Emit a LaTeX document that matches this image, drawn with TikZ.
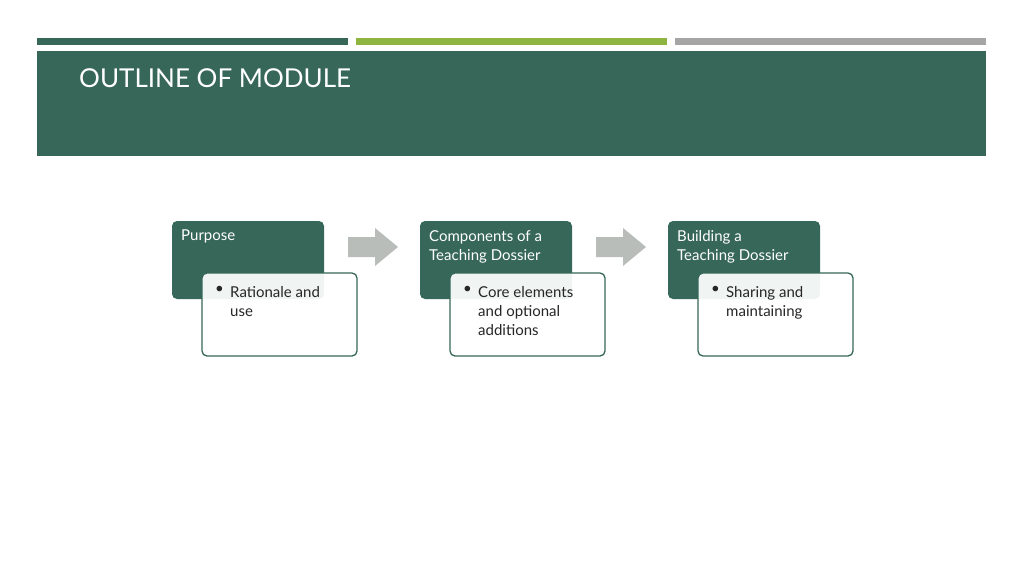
\documentclass[tikz,border=0pt]{standalone}
\usepackage{fontspec}
\setmainfont{Lato}
\definecolor{dg}{HTML}{376758}
\definecolor{lg}{HTML}{8DB53F}
\definecolor{gr}{HTML}{A5A5A5}
\definecolor{ar}{HTML}{B9BDBA}
\definecolor{tx}{HTML}{262626}
\begin{document}
\begin{tikzpicture}[x=1pt,y=-1pt,
  head/.style={text=white,font=\fontsize{15}{19}\selectfont,align=left,anchor=north west,inner sep=0},
  sub/.style={draw=dg,line width=1.3,fill=white,fill opacity=0.93,rounded corners=5},
  subtext/.style={text=tx,font=\fontsize{15}{19}\selectfont,align=left,anchor=north west,inner sep=0},
  garrow/.style={fill=ar,draw=none}]
\useasboundingbox (0,0) rectangle (1024,576);
\fill[white] (0,0) rectangle (1024,576);
\fill[dg] (37,38) rectangle (348,45);
\fill[lg] (356,38) rectangle (667,45);
\fill[gr] (675,38) rectangle (986,45);
\fill[dg] (37,51) rectangle (986,156);
\node[anchor=west,text=white,font=\fontsize{26}{30}\selectfont,inner sep=0] (title) at (79,78) {OUTLINE OF MODULE};
\foreach \i/\x/\h/\s in {1/172/{Purpose}/{Rationale and\\use},
                        2/420/{Components of a\\Teaching Dossier}/{Core elements\\and optional\\additions},
                        3/668/{Building a\\Teaching Dossier}/{Sharing and\\maintaining}}{
  \fill[dg,rounded corners=5] (\x,221) rectangle ++(152,78);
  \node[head] (h\i) at (\x+9,230) {\h};
  \draw[sub] (\x+30,273) rectangle ++(155,83);
  \node[subtext] (b\i) at (\x+43,286) {\textbullet};
  \node[subtext] (s\i) at (\x+58,286) {\s};
}
\foreach \x in {348,596}{
  \fill[garrow] (\x,237) -- (\x+27,237) -- (\x+27,228) -- (\x+50,247) -- (\x+27,266) -- (\x+27,257) -- (\x,257) -- cycle;
}
\end{tikzpicture}
\end{document}
